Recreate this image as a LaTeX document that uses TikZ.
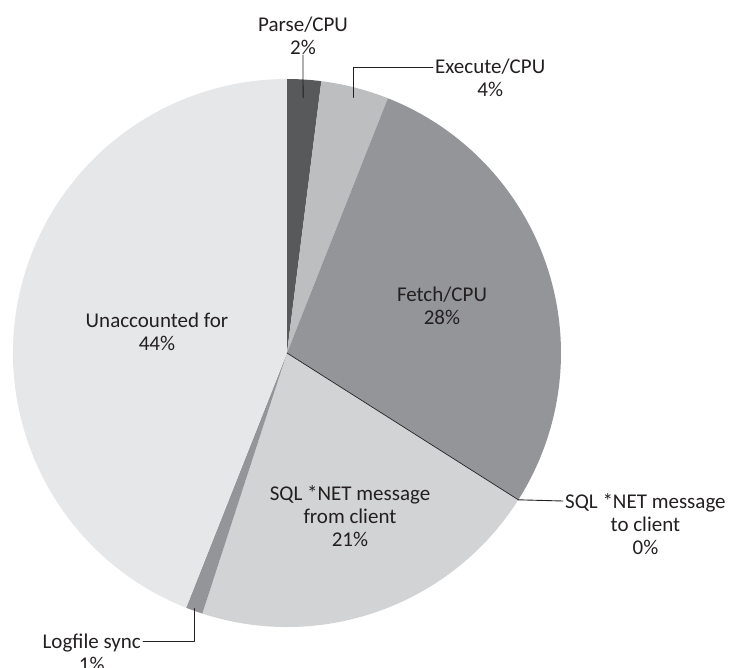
\documentclass[tikz,border=0pt]{standalone}
\usepackage{fontspec}
\setmainfont{Carlito}
\definecolor{toi}{HTML}{58595B}
\definecolor{xamnhat}{HTML}{BCBEC0}
\definecolor{xamvua}{HTML}{939598}
\definecolor{xamsang}{HTML}{D1D3D4}
\definecolor{nen}{HTML}{E6E7E8}
\definecolor{chu}{HTML}{231F20}
\begin{document}
\begin{tikzpicture}[x=1pt,y=1pt,line join=round,line cap=round,font=\fontsize{21}{23}\selectfont,
	nhan/.style={align=center,inner sep=0pt,text=chu},
	day/.style={draw=chu,line width=0.9pt}]
	%Biểu đồ hình tròn
	\useasboundingbox (-287,-314) rectangle (444,353);
	\path 
	(0,0) coordinate (O)
	(86.4:256) coordinate (P1)
	(75.5:264) coordinate (E1)
	(-32.4:274) coordinate (S1)
	(-110:272) coordinate (L1)
	(146,286) coordinate (E2)
	(276,-148) coordinate (S2)
	(-144,-288) coordinate (L2)
	;
	\foreach \a/\b/\m in {90/82.8/toi,82.8/68.4/xamnhat,68.4/-32.4/xamvua,-32.4/-108/xamsang,-108/-111.6/xamvua,-111.6/-270/nen}{
		\fill[\m] (O)--(\a:274) arc[start angle=\a,end angle=\b,radius=274]--cycle;}
	\draw[chu,line width=0.7pt] (O)--(S1);
	\node[nhan] (fetch) at (155,47) {Fetch/CPU\\28\%};
	\node[nhan] (unacc) at (-130,21) {Unaccounted for\\44\%};
	\node[nhan] (sqlfrom) at (63,-163) {SQL *NET message\\from client\\21\%};
	\node[nhan,anchor=south] (parse) at (16,298) {Parse/CPU\\2\%};
	\node[nhan,anchor=base west,yshift=-30pt] (exe) at (148,286) {Execute/CPU\\4\%};
	\node[nhan,anchor=base west,yshift=-53pt] (sqlto) at (278,-148) {SQL *NET message\\to client\\0\%};
	\node[nhan,anchor=base east,yshift=-30pt] (logf) at (-146,-288) {Logfile sync\\1\%};
	\draw[day] (P1)--(parse.south);
	\draw[day] (E1)|-(E2);
	\draw[day] (S1)--(S2);
	\draw[day] (L1)|-(L2);
\end{tikzpicture}
\end{document}
